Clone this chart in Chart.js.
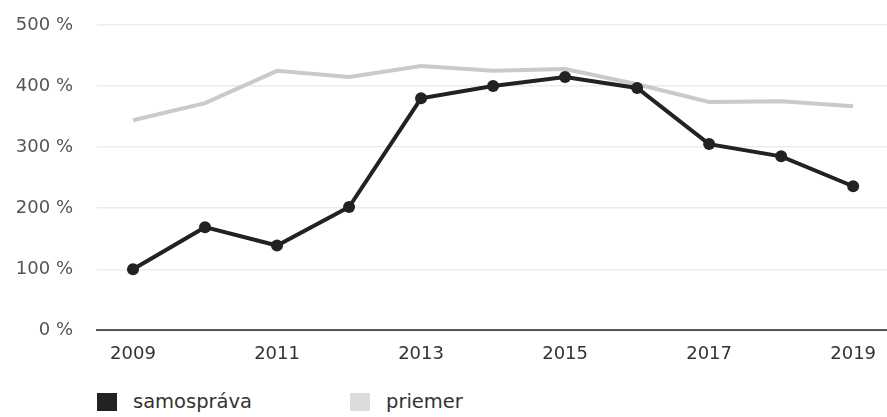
<!DOCTYPE html>
<html>
<head>
<meta charset="utf-8">
<script src="https://cdn.jsdelivr.net/npm/chart.js@4"></script>
<style>
  body { margin: 0; background: #fff; font-family: "DejaVu Sans", sans-serif; }
  #wrap { position: relative; width: 887px; height: 417px; }
  #legend { position: absolute; left: 97px; top: 390px; display: flex; font-size: 19.5px; color: #333; }
  #legend span.item { display: flex; align-items: center; }
  #legend span.box { display: inline-block; width: 20px; height: 18px; margin-right: 16px; }
</style>
</head>
<body>
<div id="wrap">
  <canvas id="chart" width="887" height="370"></canvas>
  <div id="legend">
    <span class="item" style="width:253px"><span class="box" style="background:#222"></span>samospráva</span>
    <span class="item"><span class="box" style="background:#dcdcdc"></span>priemer</span>
  </div>
</div>
<script>
const years = [2009, 2010, 2011, 2012, 2013, 2014, 2015, 2016, 2017, 2018, 2019];
const samosprava = [100, 169, 139, 202, 380, 400, 415, 397, 305, 285, 236];
const priemer = [344, 372, 425, 415, 433, 425, 428, 403, 374, 375, 367];
const xTicks = [2009, 2011, 2013, 2015, 2017, 2019];
const yTicks = [0, 100, 200, 300, 400, 500];

const ctx = document.getElementById('chart');

const chart = new Chart(ctx,
    {
        type: 'line',
        data:
        {
            labels: years,
            datasets:
            [
                {
                    label: 'samospráva',
                    data: samosprava,
                    borderColor: '#222',
                    backgroundColor: '#222',
                    borderWidth: 4,
                    pointRadius: 6,
                    pointBorderWidth: 0,
                    tension: 0
                },
                {
                    label: 'priemer',
                    data: priemer,
                    borderColor: '#cacaca',
                    backgroundColor: '#cacaca',
                    borderWidth: 4,
                    pointRadius: 0,
                    tension: 0
                }
            ]
        },
        options:
        {
            responsive: false,
            animation: false,
            layout: { autoPadding: false, padding: { top: 25, right: 0, left: 0, bottom: 0 } },
            scales:
            {
                x:
                {
                    type: 'linear',
                    min: 2008.5,
                    max: 2019.47,
                    afterBuildTicks: (scale) => { scale.ticks = xTicks.map(v => ({ value: v })); },
                    afterFit: (scale) => { scale.paddingRight = 0; scale.paddingLeft = 0; },
                    grid: { display: false },
                    border: { color: '#555', width: 2 },
                    ticks:
                    {
                        padding: 5,
                        color: '#333',
                        font: { family: 'DejaVu Sans', size: 18 },
                        callback: (v) => String(v)
                    }
                },
                y:
                {
                    min: 0,
                    max: 500,
                    afterBuildTicks: (scale) => { scale.ticks = yTicks.map(v => ({ value: v })); },
                    afterFit: (scale) => { scale.width = 97; scale.paddingTop = 0; },
                    grid: { color: '#ececec', lineWidth: 1.5, drawTicks: false },
                    border: { display: false },
                    ticks:
                    {
                        padding: 24,
                        color: '#555',
                        font: { family: 'DejaVu Sans', size: 18 },
                        callback: (v) => v + ' %'
                    }
                }
            },
            plugins:
            {
                legend: { display: false },
                tooltip: { enabled: false }
            }
        }
    })
</script>
</body>
</html>
